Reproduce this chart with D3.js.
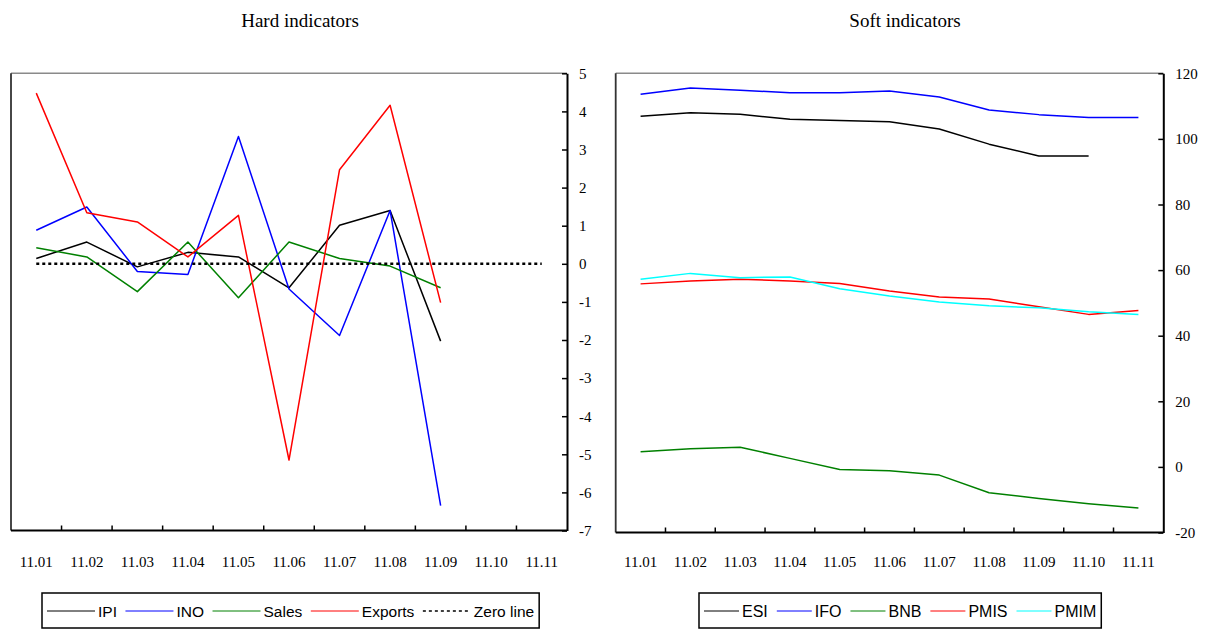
<!DOCTYPE html>
<html>
<head>
<meta charset="utf-8">
<script src="https://cdn.jsdelivr.net/npm/d3@7"></script>
<style>
  html, body { margin: 0; padding: 0; background: #fff; }
  svg { display: block; }
</style>
</head>
<body>
<svg id="chart" width="1208" height="629"></svg>
<script>
// Monthly periods (year.month)
const categories = ["11.01","11.02","11.03","11.04","11.05","11.06","11.07","11.08","11.09","11.10","11.11"];

// Hard indicators (monthly % change)
const ipi     = [0.14, 0.57, -0.08, 0.30, 0.18, -0.63, 1.01, 1.40, -2.03];
const ino     = [0.88, 1.49, -0.20, -0.28, 3.34, -0.66, -1.88, 1.40, -6.35];
const sales   = [0.42, 0.18, -0.73, 0.57, -0.89, 0.57, 0.14, -0.06, -0.63];
const exportsS = [4.48, 1.34, 1.10, 0.18, 1.27, -5.15, 2.47, 4.16, -1.02];
const zeroLine = [0, 0, 0, 0, 0, 0, 0, 0, 0, 0, 0];

// Soft indicators (index levels)
const esi  = [106.9, 108.0, 107.5, 106.0, 105.6, 105.2, 103.0, 98.4, 94.8, 94.8];
const ifo  = [113.6, 115.5, 114.8, 114.1, 114.1, 114.6, 112.8, 108.8, 107.4, 106.5, 106.5];
const bnb  = [4.6, 5.5, 6.0, 2.6, -0.8, -1.2, -2.5, -7.9, -9.6, -11.2, -12.5];
const pmis = [55.8, 56.7, 57.2, 56.7, 55.9, 53.6, 51.8, 51.2, 48.8, 46.5, 47.7];
const pmim = [57.2, 59.0, 57.7, 57.9, 54.3, 52.1, 50.3, 49.1, 48.5, 47.3, 46.5];

// Axis tick values
const hardTicks = [5, 4, 3, 2, 1, 0, -1, -2, -3, -4, -5, -6, -7];
const softTicks = [120, 100, 80, 60, 40, 20, 0, -20];

const svg = d3.select("#chart");

function panel(cfg) {
  const g = svg.append("g");
  const x = d3.scaleBand().domain(categories).range([cfg.x0, cfg.x1]).padding(0);
  const y = d3.scaleLinear().domain(cfg.domain).range([cfg.y1, cfg.y0]);

  // Title
  g.append("text")
    .attr("x", cfg.titleX).attr("y", 27)
    .attr("text-anchor", "middle")
    .attr("font-family", "'Liberation Serif', 'Times New Roman', serif")
    .attr("font-size", 19)
    .attr("fill", "#000")
    .text(cfg.title);

  // Frame: light top/left, heavy right/bottom axes
  g.append("line").attr("x1", cfg.x0).attr("x2", cfg.x1).attr("y1", cfg.y0).attr("y2", cfg.y0)
    .attr("stroke", "#8a8a8a").attr("stroke-width", 1.5);
  g.append("line").attr("x1", cfg.x0).attr("x2", cfg.x0).attr("y1", cfg.y0).attr("y2", cfg.y1)
    .attr("stroke", "#333").attr("stroke-width", 1.8);

  // Right value axis with inward ticks
  const yAxis = d3.axisRight(y).tickValues(cfg.ticks).tickSize(0).tickPadding(12).tickFormat(d => String(d));
  const ya = g.append("g").attr("transform", `translate(${cfg.x1},0)`).call(yAxis);
  ya.select(".domain").attr("stroke", "#000").attr("stroke-width", 2);
  ya.selectAll(".tick line").attr("x1", -5).attr("x2", 0).attr("stroke", "#000").attr("stroke-width", 1.5);
  ya.selectAll(".tick text")
    .attr("font-family", "'Liberation Serif', 'Times New Roman', serif")
    .attr("font-size", 15).attr("fill", "#000");

  // Bottom category axis: ticks between bands, labels at band centres
  const xa = g.append("g");
  xa.append("line").attr("x1", cfg.x0).attr("x2", cfg.x1).attr("y1", cfg.y1).attr("y2", cfg.y1)
    .attr("stroke", "#000").attr("stroke-width", 2);
  xa.selectAll("line.tk").data(categories.slice(1)).enter().append("line")
    .attr("class", "tk")
    .attr("x1", d => x(d)).attr("x2", d => x(d))
    .attr("y1", cfg.y1 - 5).attr("y2", cfg.y1)
    .attr("stroke", "#000").attr("stroke-width", 1.5);
  xa.selectAll("text").data(categories).enter().append("text")
    .attr("x", d => x(d) + x.bandwidth() / 2)
    .attr("y", 567)
    .attr("text-anchor", "middle")
    .attr("font-family", "'Liberation Serif', 'Times New Roman', serif")
    .attr("font-size", 15).attr("fill", "#000")
    .text(d => d);

  // Series
  const line = d3.line()
    .x((d, i) => x(categories[i]) + x.bandwidth() / 2)
    .y(d => y(d));
  cfg.series.forEach(s => {
    g.append("path")
      .datum(s.values)
      .attr("d", line)
      .attr("fill", "none")
      .attr("stroke", s.color)
      .attr("stroke-width", s.dash ? 2.5 : 1.5)
      .attr("stroke-dasharray", s.dash || null)
      .attr("stroke-linejoin", "round");
  });

  // Legend
  const lg = g.append("g");
  const box = lg.append("rect")
    .attr("x", cfg.legendX).attr("y", 593).attr("height", 35)
    .attr("fill", "#fff").attr("stroke", "#000").attr("stroke-width", 1.5);
  let cx = cfg.legendX + 5;
  cfg.series.forEach(s => {
    lg.append("line")
      .attr("x1", cx).attr("x2", cx + cfg.sampleLen)
      .attr("y1", 611).attr("y2", 611)
      .attr("stroke", s.color)
      .attr("stroke-width", s.dash ? 1.5 : 1)
      .attr("stroke-dasharray", s.dash ? "3,3" : null);
    cx += cfg.sampleLen + 3;
    const t = lg.append("text")
      .attr("x", cx).attr("y", 617)
      .attr("font-family", "'Liberation Sans', Arial, sans-serif")
      .attr("font-size", cfg.legendFont).attr("fill", "#000")
      .text(s.name);
    cx += t.node().getComputedTextLength() + cfg.legendGap;
  });
  box.attr("width", cx - cfg.legendX - cfg.legendGap + 5);
}

panel({
  title: "Hard indicators", titleX: 300,
  x0: 11, x1: 567, y0: 73.3, y1: 530.5,
  domain: [-7, 5], ticks: hardTicks,
  legendX: 42, sampleLen: 48, legendFont: 15.5, legendGap: 8.5,
  series: [
    { name: "IPI", values: ipi, color: "#000000" },
    { name: "INO", values: ino, color: "#0000ff" },
    { name: "Sales", values: sales, color: "#008000" },
    { name: "Exports", values: exportsS, color: "#ff0000" },
    { name: "Zero line", values: zeroLine, color: "#000000", dash: "3,3" }
  ]
});

panel({
  title: "Soft indicators", titleX: 905,
  x0: 615.7, x1: 1163.3, y0: 73.3, y1: 532.5,
  domain: [-20, 120], ticks: softTicks,
  legendX: 699, sampleLen: 35, legendFont: 16, legendGap: 9,
  series: [
    { name: "ESI", values: esi, color: "#000000" },
    { name: "IFO", values: ifo, color: "#0000ff" },
    { name: "BNB", values: bnb, color: "#008000" },
    { name: "PMIS", values: pmis, color: "#ff0000" },
    { name: "PMIM", values: pmim, color: "#00ffff" }
  ]
});
</script>
</body>
</html>
